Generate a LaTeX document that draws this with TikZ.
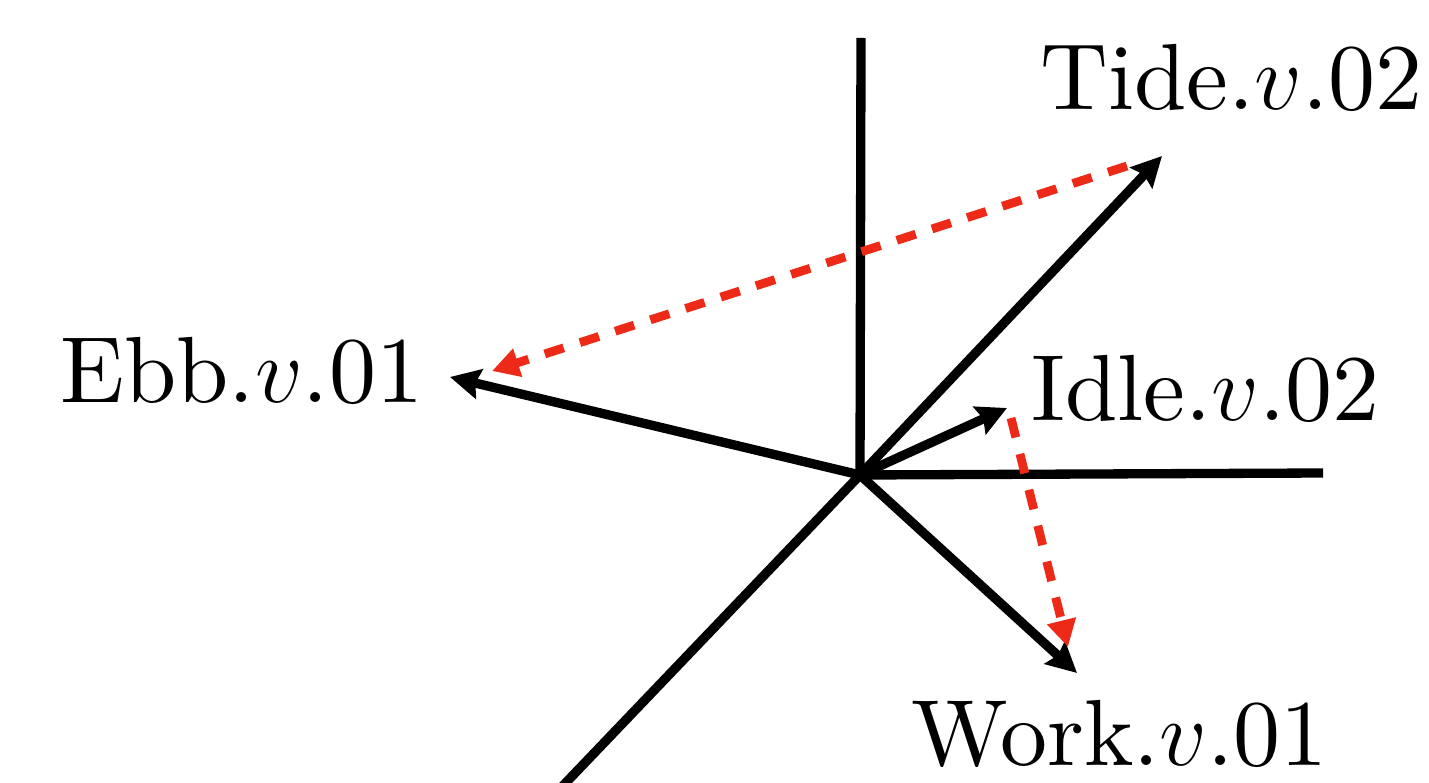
\documentclass[tikz,border=0pt]{standalone}
\usepackage{fix-cm}
\usepackage{fontspec}
\setmainfont{lmroman10-regular}[Extension=.otf]
\usetikzlibrary{arrows.meta}
\definecolor{cred}{HTML}{EC2A17}
\tikzset{
  axis/.style={draw=black, line width=5.3pt},
  vec/.style={draw=black, line width=5.3pt, -{Stealth[length=0.6cm, width=0.6cm, inset=0.08cm]}},
  sense/.style={draw=cred, line width=5pt, dash pattern=on 0.4cm off 0.34cm, -{Triangle[length=0.54cm, width=0.56cm]}},
  lbl/.style={anchor=base west, inner sep=0pt, font=\fontsize{53.5}{60}\selectfont},
}
\begin{document}
\begin{tikzpicture}[x=0.02cm, y=-0.02cm]
  \useasboundingbox (0,0) rectangle (1429,783);
  % axes
  \coordinate (o) at (860,475);
  \coordinate (ytop) at (861,38);
  \coordinate (xend) at (1323,473);
  \coordinate (zend) at (556,793);
  \draw[axis] (o) -- (ytop);
  \draw[axis] (o) -- (xend);
  \draw[axis] (o) -- (zend);
  % word vectors
  \coordinate (tidetip) at (1162,156);
  \coordinate (ebbtip) at (450,377);
  \coordinate (idletip) at (1007,408);
  \coordinate (worktip) at (1077,673);
  \draw[vec] (o) -- (tidetip);
  \draw[vec] (o) -- (ebbtip);
  \draw[vec] (o) -- (idletip);
  \draw[vec] (o) -- (worktip);
  \node[lbl] (tide) at (1040,110) {Tide.$v$.02};
  \node[lbl] (ebb) at (60,403) {Ebb.$v$.01};
  \node[lbl] (idle) at (1031,420) {Idle.$v$.02};
  \node[lbl] (work) at (911,765) {Work.$v$.01};
  % sense shifts
  \coordinate (s1) at (1127,166);
  \coordinate (e1) at (492,371);
  \coordinate (s2) at (1011,418);
  \coordinate (e2) at (1068,647);
  \draw[sense] (s1) -- (e1);
  \draw[sense] (s2) -- (e2);
\end{tikzpicture}
\end{document}
